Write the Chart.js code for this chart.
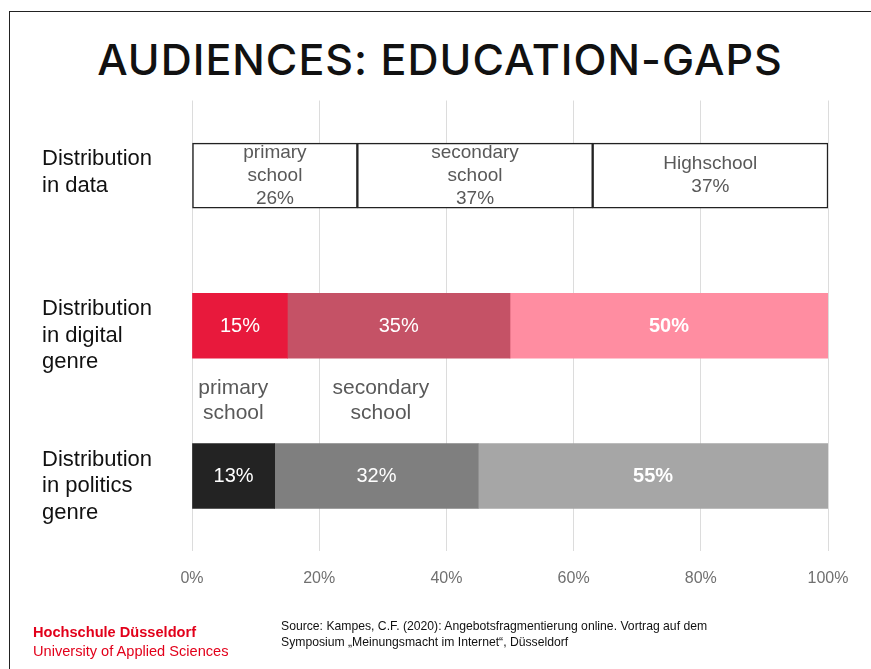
<!DOCTYPE html>
<html>
<head>
<meta charset="utf-8">
<title>Audiences: Education-Gaps</title>
<script src="https://cdn.jsdelivr.net/npm/chart.js@4.4.1/dist/chart.umd.min.js"></script>
<style>
  html, body { margin: 0; padding: 0; background: #fff; overflow: hidden; }
  body { width: 871px; height: 669px; position: relative; font-family: "Liberation Sans", Arial, sans-serif; }
  #frame { position: absolute; left: 9px; top: 11px; width: 900px; height: 700px; border-left: 1.5px solid #222; border-top: 1.5px solid #222; }
  #title { position: absolute; left: 0; width: 880px; top: 31px; text-align: center; font-family: Inter, sans-serif; font-weight: 500; font-size: 43px; letter-spacing: 1px; color: #111; margin: 0; line-height: 56px; }
  #chart { position: absolute; left: 0; top: 0; }
  #hsd { position: absolute; left: 33px; top: 623px; color: #e2001a; font-size: 14.6px; line-height: 19px; }
  #hsd b { font-weight: bold; }
  #source { position: absolute; left: 281px; top: 618px; color: #111; font-size: 12.2px; line-height: 16px; }
</style>
</head>
<body>
<div id="frame"></div>
<h1 id="title">AUDIENCES: EDUCATION-GAPS</h1>
<canvas id="chart" width="871" height="669"></canvas>
<div id="hsd"><b>Hochschule Düsseldorf</b><br>University of Applied Sciences</div>
<div id="source">Source: Kampes, C.F. (2020): Angebotsfragmentierung online. Vortrag auf dem<br>Symposium „Meinungsmacht im Internet“, Düsseldorf</div>

<script>
// rows of the chart (top to bottom)
const categories = [
    ["Distribution", "in data"],
    ["Distribution", "in digital", "genre"],
    ["Distribution", "in politics", "genre"]
];

// share per school level, in percent
const primary    = [26, 15, 13];
const secondary  = [37, 35, 32];
const highschool = [37, 50, 55];

const levelNames = [["primary", "school"], ["secondary", "school"], ["Highschool"]];
const xTicks = [0, 20, 40, 60, 80, 100];

// colours per row: data / digital / politics
const primaryColors    = ['#ffffff', '#e8193c', '#232323'];
const secondaryColors  = ['#ffffff', '#c55266', '#7f7f7f'];
const highschoolColors = ['#ffffff', '#ff8da1', '#a6a6a6'];

function makeDataset(label, values, colors) {
    return {
        label: label,
        data: values,
        backgroundColor: colors,
        borderColor: ['#222222', 'rgba(0,0,0,0)', 'rgba(0,0,0,0)'],
        borderWidth: [1.5, 0, 0],
        borderSkipped: false,
        barThickness: 65
    };
}

// text on and around the bars
const labelPlugin = {
    id: 'barTexts',
    afterDatasetsDraw(chart) {
        const ctx = chart.ctx;
        const xScale = chart.scales.x;
        const yScale = chart.scales.y;
        ctx.save();
        ctx.textAlign = 'center';
        ctx.textBaseline = 'middle';

        chart.data.datasets.forEach((ds, di) => {
            const meta = chart.getDatasetMeta(di);
            meta.data.forEach((el, row) => {
                const cx = (el.x + el.base) / 2;
                const cy = el.y;
                const pct = ds.data[row] + '%';
                if (row === 0) {
                    const lines = levelNames[di].concat([pct]);
                    ctx.fillStyle = '#595959';
                    ctx.font = '19px "Liberation Sans", Arial, sans-serif';
                    const lh = 23;
                    lines.forEach((t, i) => {
                        ctx.fillText(t, cx, cy + (i - (lines.length - 1) / 2) * lh);
                    });
                } else {
                    ctx.fillStyle = '#ffffff';
                    const bold = di === 2 ? 'bold ' : '';
                    ctx.font = bold + '20px "Liberation Sans", Arial, sans-serif';
                    ctx.fillText(pct, cx, cy + 1);
                }
            });
        });

        // row names on the left
        ctx.textAlign = 'left';
        ctx.fillStyle = '#111111';
        ctx.font = '22px "Liberation Sans", Arial, sans-serif';
        const firstMeta = chart.getDatasetMeta(0);
        categories.forEach((lines, row) => {
            const el = firstMeta.data[row];
            const top = el.y - el.height / 2;
            lines.forEach((t, i) => ctx.fillText(t, 42, top + 16 + i * 26.5));
        });

        // level names between the digital and the politics row
        ctx.textAlign = 'center';
        ctx.fillStyle = '#595959';
        ctx.font = '21px "Liberation Sans", Arial, sans-serif';
        const midY = yScale.getPixelForValue(1.5);
        [[levelNames[0], 6.5], [levelNames[1], 29.7]].forEach(([lines, v]) => {
            const x = xScale.getPixelForValue(v);
            lines.forEach((t, i) => ctx.fillText(t, x, midY + (i - 0.5) * 25));
        });
        ctx.restore();
    }
};

function criarGrafico() {
    new Chart(document.getElementById('chart'), {
        type: 'bar',
        data: {
            labels: categories.map(c => c.join(' ')),
            datasets: [
                makeDataset('primary school', primary, primaryColors),
                makeDataset('secondary school', secondary, secondaryColors),
                makeDataset('Highschool', highschool, highschoolColors)
            ]
        },
        options: {
            indexAxis: 'y',
            responsive: false,
            animation: false,
            layout: { padding: { left: 192, right: 43, top: 100.5, bottom: 62.75 } },
            plugins: {
                legend: { display: false },
                tooltip: { enabled: false }
            },
            scales: {
                x: {
                    stacked: true,
                    min: 0,
                    max: 100,
                    afterBuildTicks: scale => { scale.ticks = xTicks.map(v => ({ value: v })); },
                    border: { display: false },
                    grid: { color: '#dcdcdc', lineWidth: 1, drawTicks: false },
                    ticks: {
                        padding: 18,
                        color: '#707070',
                        font: { family: '"Liberation Sans", Arial, sans-serif', size: 16 },
                        callback: v => v + '%'
                    }
                },
                y: {
                    stacked: true,
                    display: false
                }
            }
        },
        plugins: [labelPlugin]
    });
}

window.onload = () => {
    criarGrafico();
};
</script>
</body>
</html>
